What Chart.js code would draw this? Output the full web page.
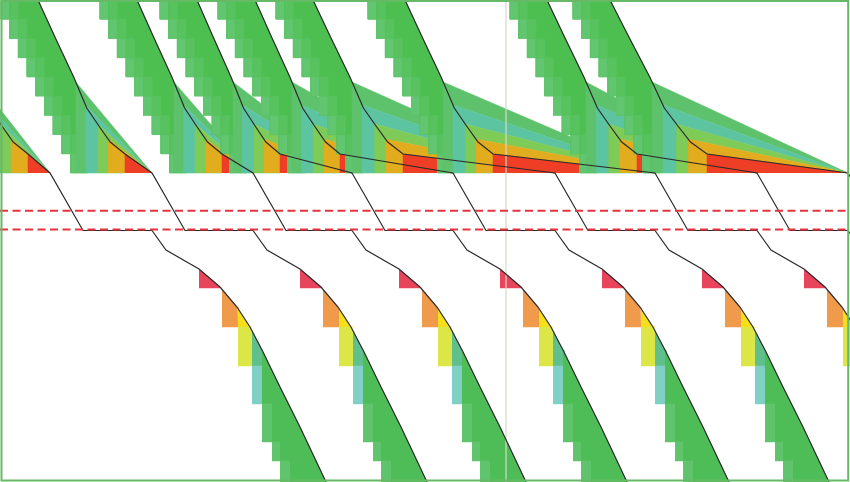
<!DOCTYPE html>
<html><head><meta charset="utf-8">
<script src="https://cdn.jsdelivr.net/npm/chart.js@4.4.1/dist/chart.umd.min.js"></script>
<style>html,body{margin:0;padding:0;background:#fff;overflow:hidden}</style>
</head><body>
<canvas id="c" width="850" height="482"></canvas>
<script>
// ---- data (x in time units, y in level units, level 0 at the top) ----
// upper ribbons: where each descending curve leaves the top, where it reaches the red band, and where it meets the floor
const upperTop  = [-5.9, 3.8, 13.7, 19.7, 25.5, 31.3, 40.5, 54.7, 61.0];
const upperEnd  = [2.8, 12.5, 22.2, 28.0, 34.0, 40.3, 49.3, 63.7, 70.7];
const upperMeet = [5.0, 15.2, 25.3, 35.2, 45.3, 55.5, 65.5, 75.7, 84.8];
// shape of the descending curve: level reached and share of its horizontal run
const curveLevel = [0, 3.8, 7.7, 10.8, 12.6, 14.2, 15.4];
const curveShare = [0, 0.20, 0.41, 0.56, 0.70, 0.83, 1];
// fan layers (green, teal, lime, gold, red): level where each one leaves the curve
const fanLevel = [8.2, 10.5, 12.4, 13.9, 15.4];
const bandFloor = 17.3;
const rowCount = 9;
const stepShift = 0.87;
const stepBack = 3.7;
// lower falls: run from the start of the fall and level reached
const lowerRun   = [0, 1.4, 4.7, 6.8, 8.5, 9.8, 11.1, 12.8, 14.8, 17.4];
const lowerLevel = [23.05, 25.0, 26.9, 28.7, 30.7, 32.7, 35.2, 38.7, 42.7, 48.2];
// lower colour columns: run range and floor level
const colFrom  = [4.7, 7.0, 8.6, 10.0, 11.0, 12.0, 12.8, 13.8];
const colTo    = [6.8, 8.6, 10.0, 11.0, 12.0, 12.8, 13.8, 17.4];
const colFloor = [28.8, 32.7, 36.6, 40.4, 44.2, 46.1, 48.2, 48.2];
const slopeRun = 3.3;
const lowerTopLevel = 23.05;
const thresholds = [21.07, 22.95];
const markerX = 50.6;

// ---- styles ----
const COLORS = {
  band: '#4dbf51', stepLight: '#62c56f', stepMid: '#57c25e',
  fan: ['#5ec26c', '#5cc4a1', '#7fcb58', '#e1ac1e', '#ee3e26'],
  lowerUpper: [null, '#f09a4b', '#f5df1b', '#5fc08b', '#4fbd57', '#4fbd57', '#4fbd57', '#4fbd57'],
  lowerLower: ['#e8445c', '#f09a4b', '#dce646', '#80d0c6', '#60c46c', '#60c46c', '#60c46c', null],
  line: '#2b2b2b', dash: '#e5343c', marker: 'rgba(212,216,200,0.8)', frame: '#66ba66'
};

function interp(xs, ys, v) {
  if (v <= xs[0]) return ys[0];
  for (let i = 1; i < xs.length; i++) {
    if (v <= xs[i]) { const t = (v - xs[i-1]) / (xs[i] - xs[i-1]); return ys[i-1] + t * (ys[i] - ys[i-1]); }
  }
  return ys[ys.length - 1];
}
const P = (x, y) => ({x, y});
const sets = [];
function poly(pts, color) {
  sets.push({data: pts, fill: 'shape', backgroundColor: color, borderColor: color, borderWidth: 0.5, pointRadius: 0, tension: 0});
}
function path(pts, color, width, dash) {
  sets.push({data: pts, fill: false, borderColor: color, borderWidth: width, borderDash: dash || [], pointRadius: 0, tension: 0});
}

const rowH = bandFloor / rowCount;
// upper ribbons
upperTop.forEach((T, k) => {
  const E = upperEnd[k], C = upperMeet[k];
  const cx = y => T + interp(curveLevel, curveShare, y) * (E - T);
  const curve = curveLevel.map(y => P(cx(y), y));
  const left = r => T - stepBack + stepShift * r;
  const stair = [];
  for (let r = 0; r < rowCount; r++) stair.push(P(left(r), r * rowH), P(left(r), (r + 1) * rowH));
  poly([...stair, P(E, bandFloor), ...curve.slice().reverse()], COLORS.band);
  [[0, COLORS.stepLight], [1, COLORS.stepMid]].forEach(([off, col]) => {
    const a = [], b = [];
    for (let r = 0; r < rowCount; r++) {
      const x0 = left(r + off), x1 = left(r + off + 1);
      a.push(P(x0, r * rowH), P(x0, (r + 1) * rowH));
      b.push(P(x1, r * rowH), P(x1, (r + 1) * rowH));
    }
    poly([...a, ...b.reverse()], col);
  });
  fanLevel.forEach((y, i) => {
    const x0 = cx(y);
    if (i < fanLevel.length - 1) {
      const y1 = fanLevel[i + 1], x1 = cx(y1);
      poly([P(x0, bandFloor), P(x0, y), P(C, bandFloor), P(x1, y1), P(x1, bandFloor)], COLORS.fan[i]);
    } else {
      poly([P(x0, bandFloor), P(x0, y), P(C, bandFloor)], COLORS.fan[i]);
    }
  });
});

// lower falls
upperMeet.slice(1).forEach(S => {
  const ly = dx => interp(lowerRun, lowerLevel, dx);
  colFrom.forEach((from, c) => {
    const to = colTo[c];
    const runs = [from, ...lowerRun.filter(r => r > from && r < to), to];
    const floor = colFloor[c];
    const prev = c > 0 ? colFloor[c - 1] : -Infinity;
    if (c > 0 && COLORS.lowerUpper[c] && runs.some(r => ly(r) < prev)) {
      poly([...runs.map(r => P(S + r, Math.min(ly(r), prev))), P(S + to, prev), P(S + from, prev)], COLORS.lowerUpper[c]);
    }
    if (floor > prev && COLORS.lowerLower[c]) {
      poly([...runs.map(r => P(S + r, Math.max(ly(r), prev))), P(S + to, floor), P(S + from, floor)], COLORS.lowerLower[c]);
    }
  });
});

// marker
path([P(markerX, 0), P(markerX, 48.2)], COLORS.marker, 1.5);

// black connecting lines
upperTop.forEach((T, k) => {
  const E = upperEnd[k], C = upperMeet[k];
  const pts = curveLevel.map(y => P(T + interp(curveLevel, curveShare, y) * (E - T), y));
  pts.push(P(C, bandFloor), P(C + slopeRun, lowerTopLevel));
  const S = upperMeet[k + 1];
  if (S !== undefined) lowerRun.forEach((r, j) => pts.push(P(S + r, lowerLevel[j])));
  path(pts, COLORS.line, 1.2);
});

// dashed thresholds
thresholds.forEach(y => path([P(0, y), P(85, y)], COLORS.dash, 2, [8, 4.5]));

// frame
path([P(0.15, 0.1), P(84.82, 0.1), P(84.82, 48.05), P(0.15, 48.05), P(0.15, 0.1)], COLORS.frame, 2);

sets.forEach((d, i) => { d.order = sets.length - i; d.clip = 3; });

new Chart(document.getElementById('c'), {
  type: 'line',
  data: {datasets: sets},
  options: {
    responsive: false, animation: false, events: [],
    layout: {padding: 0},
    plugins: {legend: {display: false}, tooltip: {enabled: false}},
    scales: {
      x: {type: 'linear', min: 0, max: 85, display: false},
      y: {type: 'linear', min: 0, max: 48.2, reverse: true, display: false}
    },
    elements: {point: {radius: 0}, line: {tension: 0}}
  }
});
</script>
</body></html>
